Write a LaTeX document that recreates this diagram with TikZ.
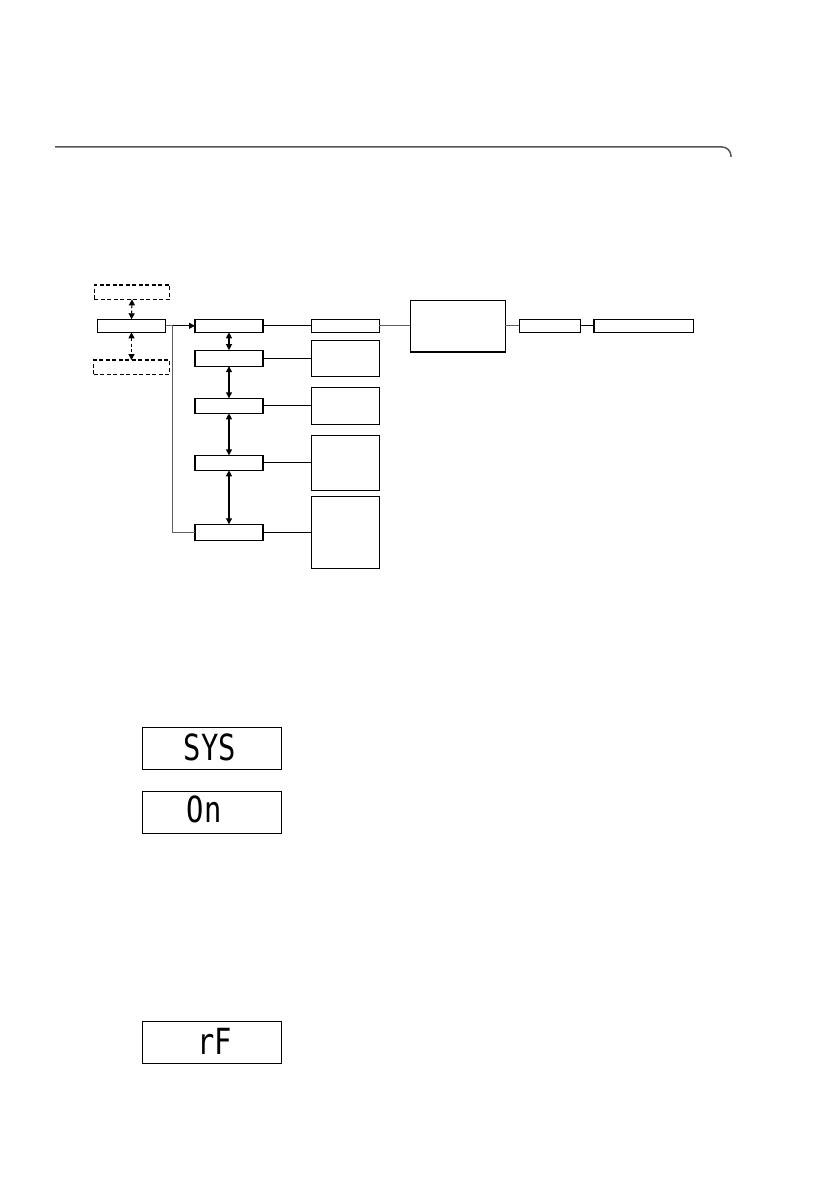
\documentclass[tikz,border=0pt]{standalone}
\usepackage{fontspec}
\newfontfamily\segfont{DejaVu Sans Mono}
\usetikzlibrary{arrows.meta}
\definecolor{rulegray}{HTML}{555555}
\definecolor{linegray}{HTML}{606060}
\tikzset{
  box/.style={draw=black, line width=1.2pt, fill=white, inner sep=0pt, outer sep=0pt},
  dbox/.style={box, dashed, dash pattern=on 4pt off 2.5pt},
  conn/.style={line width=1.1pt, draw=black},
  gconn/.style={line width=1.3pt, draw=linegray},
  tip/.tip={Triangle[length=6pt, width=6pt]},
  dbl/.style={conn, {tip}-{tip}},
  ddbl/.style={dbl, dashed, dash pattern=on 3pt off 2.5pt},
  disp/.style={draw=black, line width=1.4pt, inner sep=0pt, minimum width=139pt, minimum height=42pt},
  segtext/.style={anchor=base, inner sep=0pt, font=\segfont\fontsize{36}{36}\selectfont}
}
\begin{document}
\begin{tikzpicture}[x=1pt, y=-1pt]
\useasboundingbox (0,0) rectangle (838,1190);

% top rule
\draw[rulegray, line width=1.5pt, rounded corners=9pt] (55,147) -- (731,147) -- (731,157);

% left column
\node[dbox, minimum width=75.5pt, minimum height=14.3pt] (dtop) at (132,292.2) {};
\node[box, minimum width=68.4pt, minimum height=13pt] (m0) at (131.5,325.8) {};
\node[dbox, minimum width=75.5pt, minimum height=14.3pt] (dbot) at (131.5,367.2) {};

% column 2
\node[box, minimum width=68pt, minimum height=13pt] (c2r1) at (229,325.8) {};
\node[box, minimum width=68pt, minimum height=16pt] (c2r2) at (229,358.2) {};
\node[box, minimum width=68pt, minimum height=15pt] (c2r3) at (229,405.8) {};
\node[box, minimum width=68pt, minimum height=15pt] (c2r4) at (229,462.8) {};
\node[box, minimum width=68pt, minimum height=16pt] (c2r5) at (229,532.3) {};

% column 3
\node[box, minimum width=68pt, minimum height=13pt] (c3r1) at (345.3,325.8) {};
\node[box, minimum width=68pt, minimum height=36pt] (c3r2) at (345.3,358.3) {};
\node[box, minimum width=68pt, minimum height=37pt] (c3r3) at (345.3,405.8) {};
\node[box, minimum width=68pt, minimum height=55pt] (c3r4) at (345.3,462.8) {};
\node[box, minimum width=68pt, minimum height=72pt] (c3r5) at (345.3,532.3) {};

% right part
\node[box, minimum width=95pt, minimum height=51.7pt] (big) at (457.8,326.2) {};
\node[box, minimum width=61pt, minimum height=13pt] (bA) at (549.8,325.8) {};
\node[box, minimum width=99.3pt, minimum height=13pt] (bB) at (643.7,325.8) {};

% connectors left
\draw[ddbl] (dtop.south) -- (m0.north);
\draw[ddbl] (m0.south) -- (dbot.north);
\coordinate (j) at (172.5,325.8);
\draw[gconn] (m0.east) -- (j);
\draw[conn, -{tip}] (j) -- (c2r1.west);
\draw[gconn] (j) |- (c2r5.west);

% vertical double arrows column 2
\draw[dbl] (c2r1.south) -- (c2r2.north);
\draw[dbl] (c2r2.south) -- (c2r3.north);
\draw[dbl] (c2r3.south) -- (c2r4.north);
\draw[dbl] (c2r4.south) -- (c2r5.north);

% horizontal links col2 -> col3
\draw[conn] (c2r1.east) -- (c3r1.west);
\draw[conn] (c2r2.east) -- (c2r2.east -| c3r2.west);
\draw[conn] (c2r3.east) -- (c2r3.east -| c3r3.west);
\draw[conn] (c2r4.east) -- (c2r4.east -| c3r4.west);
\draw[conn] (c2r5.east) -- (c2r5.east -| c3r5.west);

% right links
\draw[gconn] (c3r1.east) -- (c3r1.east -| big.west);
\draw[gconn] (big.east |- bA.west) -- (bA.west);
\draw[conn] (bA.east) -- (bB.west);

% displays
\node[disp] (d1) at (211.8,748.3) {};
\node[segtext] (t1) at (210,760.7) {\scalebox{0.8}[1]{SYS}};
\node[disp] (d2) at (211.8,812.3) {};
\node[segtext] (t2) at (204.2,822.7) {\scalebox{0.8}[1]{On}};
\node[disp] (d3) at (211.8,1042.3) {};
\node[segtext] (t3) at (214.5,1054.3) {\scalebox{0.8}[1]{rF}};
\end{tikzpicture}
\end{document}
